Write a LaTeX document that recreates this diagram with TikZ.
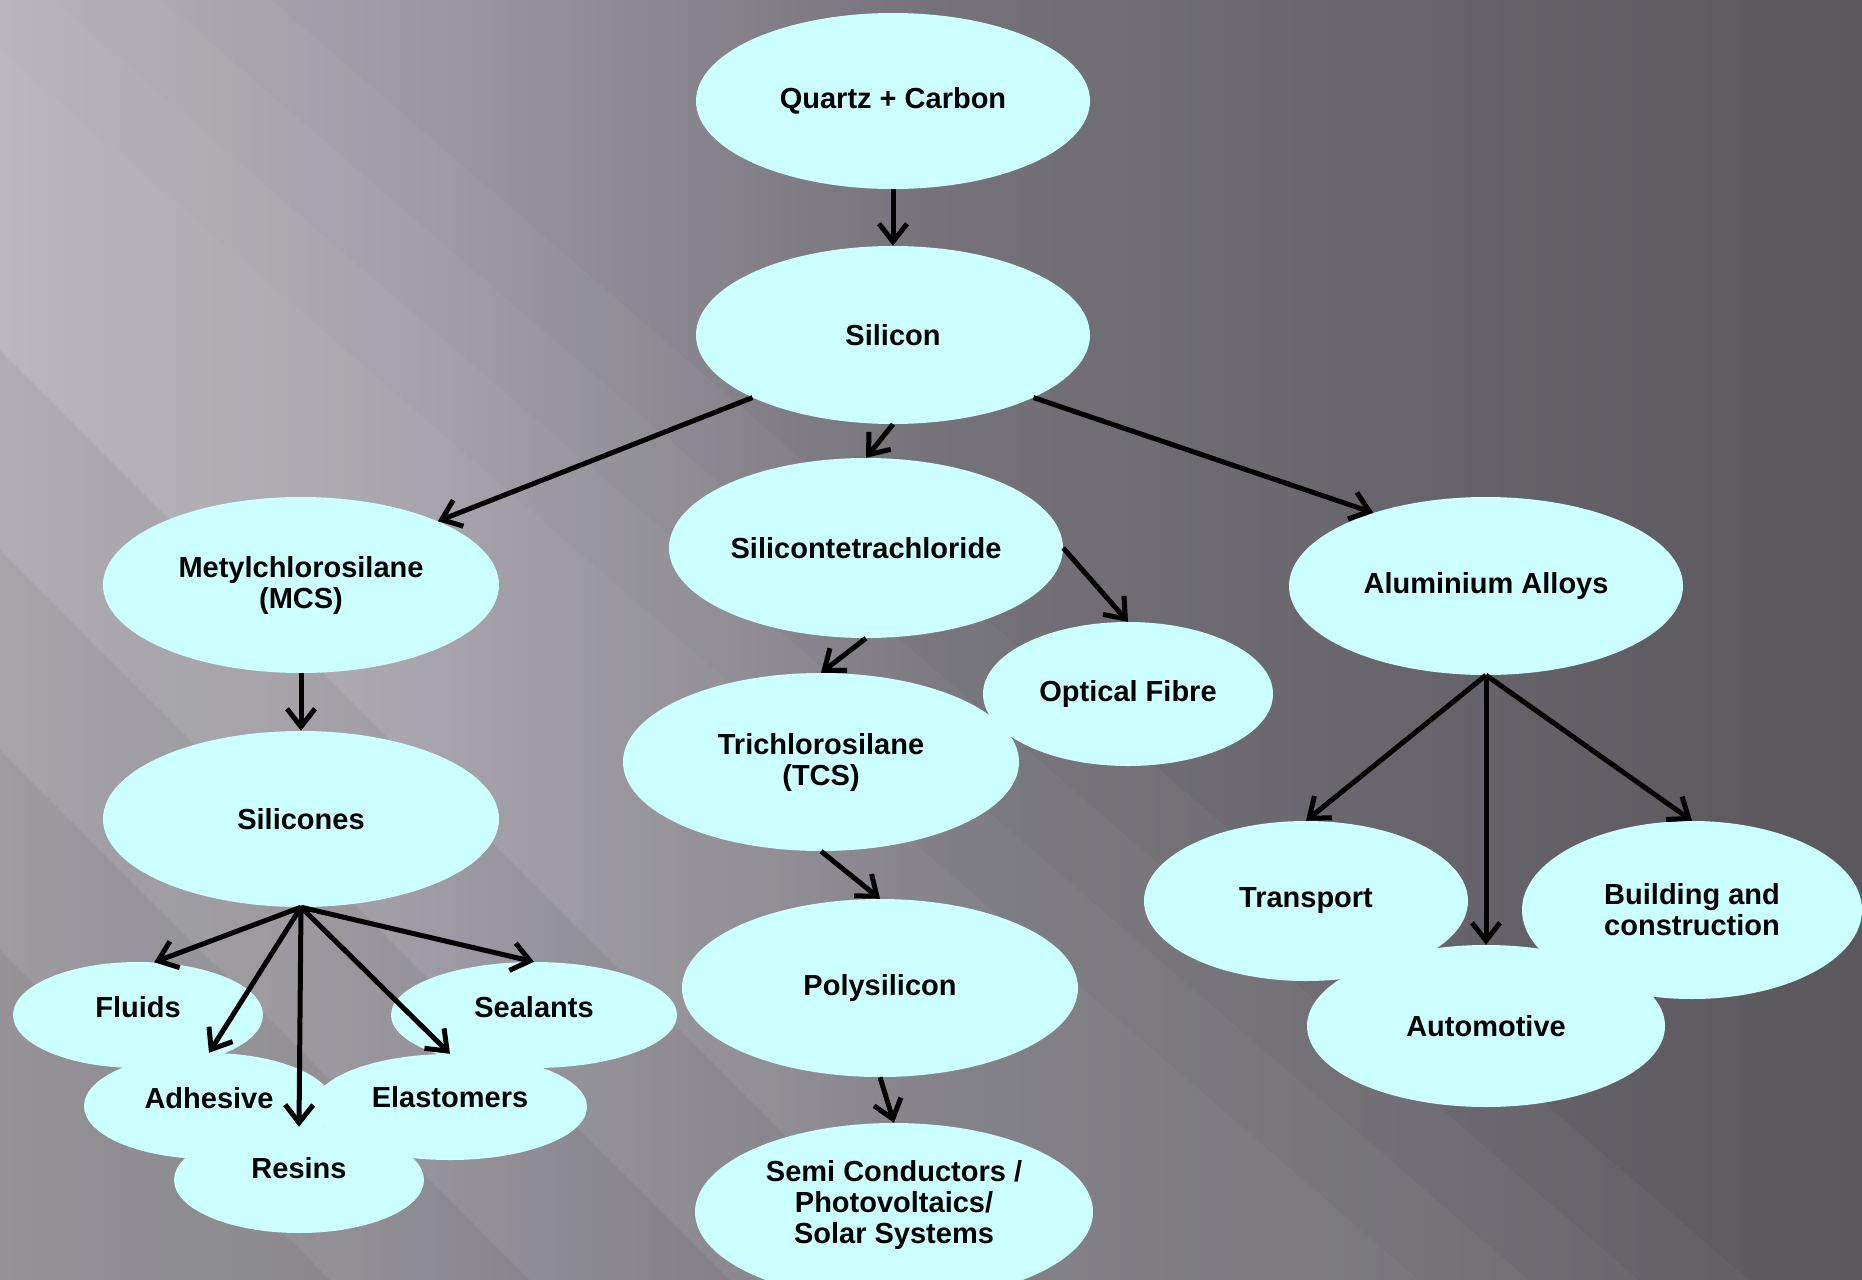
\documentclass[tikz,border=0pt]{standalone}
\usepackage{fontspec}
\setmainfont{Liberation Sans}
\usetikzlibrary{shapes.geometric,arrows.meta}
\definecolor{bgA}{HTML}{B2AFB6}
\definecolor{bgB}{HTML}{9A97A0}
\definecolor{bgC}{HTML}{75727A}
\definecolor{bgD}{HTML}{5A585D}
\definecolor{bubfill}{HTML}{CCFFFF}
\pgfdeclarehorizontalshading{bgshade}{100bp}{color(0bp)=(bgA); color(25bp)=(bgA); color(37bp)=(bgB); color(50bp)=(bgC); color(75bp)=(bgD); color(100bp)=(bgD)}
\tikzset{
  bub/.style={ellipse, fill=bubfill, inner sep=0pt, align=center, text=black,
    font=\bfseries\fontsize{29}{31}\selectfont},
  sz/.style 2 args={minimum width=#1pt, minimum height=#2pt},
  lift/.style={text height=21pt, text depth=#1pt},
  arr/.style={line width=5pt, black, -{Straight Barb[length=18pt,width=28pt]}},
  lightlayer/.style={white, opacity=0.035},
  darklayer/.style={black, opacity=0.05}
}
\begin{document}
\begin{tikzpicture}[x=1pt,y=-1pt]
% background
\useasboundingbox (0,0) rectangle (1862,1279);
\fill[shading=bgshade] (0,0) rectangle (1862,1279);
\foreach \s in {0,110,220,330}
  \fill[lightlayer] (-10,-10) -- (260-\s,-10) -- (1760-\s,1290) -- (-10,1290) -- cycle;
\foreach \h in {350,550,750,950}
  \fill[darklayer] (-10,1290-\h) -- (-10,1290) -- (-10+\h,1290) -- cycle;

% nodes
\node[bub, sz={394}{176}] (quartz) at (893,101) {Quartz + Carbon};
\node[bub, sz={394}{178}] (silicon) at (893,335) {Silicon};
\node[bub, sz={396}{176}] (mcs) at (301,585) {Metylchlorosilane\\(MCS)};
\node[bub, sz={394}{180}] (stc) at (866,548) {Silicontetrachloride};
\node[bub, sz={394}{178}] (al) at (1486,586) {Aluminium Alloys};
\node[bub, sz={290}{144}] (optical) at (1128,694) {Optical Fibre};
\node[bub, sz={396}{178}] (tcs) at (821,762) {Trichlorosilane\\(TCS)};
\node[bub, sz={396}{176}] (silicones) at (301,819) {Silicones};
\node[bub, sz={396}{178}] (poly) at (880,988) {Polysilicon};
\node[bub, sz={398}{178}, text depth=20pt] (semi) at (894,1212) {Semi Conductors /\\Photovoltaics/\\Solar Systems};
\node[bub, sz={324}{160}] (transport) at (1306,901) {Transport};
\node[bub, sz={340}{178}] (building) at (1692,910) {Building and\\construction};
\node[bub, sz={358}{162}] (automotive) at (1486,1026) {Automotive};
\node[bub, sz={250}{106}, lift=16] (fluids) at (138,1015) {Fluids};
\node[bub, sz={286}{106}, lift=16] (sealants) at (534,1015) {Sealants};
\node[bub, sz={250}{106}, lift=16] (adhesive) at (209,1106) {Adhesive};
\node[bub, sz={274}{106}, lift=20] (elastomers) at (450,1107) {Elastomers};
\node[bub, sz={250}{106}, lift=24] (resins) at (299,1180) {Resins};

% connectors
\draw[arr] (quartz.south) -- (silicon.north);
\draw[arr] (silicon.-156) -- (mcs.25);
\draw[arr] (silicon.south) -- (stc.north);
\draw[arr] (silicon.-24) -- (al.147);
\draw[arr] (stc.east) -- (optical.north);
\draw[arr] (stc.south) -- (tcs.north);
\draw[arr] (tcs.south) -- (poly.north);
\draw[arr] (poly.south) -- (semi.north);
\draw[arr] (mcs.south) -- (silicones.north);
\draw[arr] (silicones.south) -- (fluids.73);
\draw[arr] (silicones.south) -- (adhesive.north);
\draw[arr] (silicones.south) -- (resins.north);
\draw[arr] (silicones.south) -- (elastomers.north);
\draw[arr] (silicones.south) -- (sealants.north);
\draw[arr] (al.south) -- (transport.north);
\draw[arr] (al.south) -- (automotive.north);
\draw[arr] (al.south) -- (building.north);
\end{tikzpicture}
\end{document}
